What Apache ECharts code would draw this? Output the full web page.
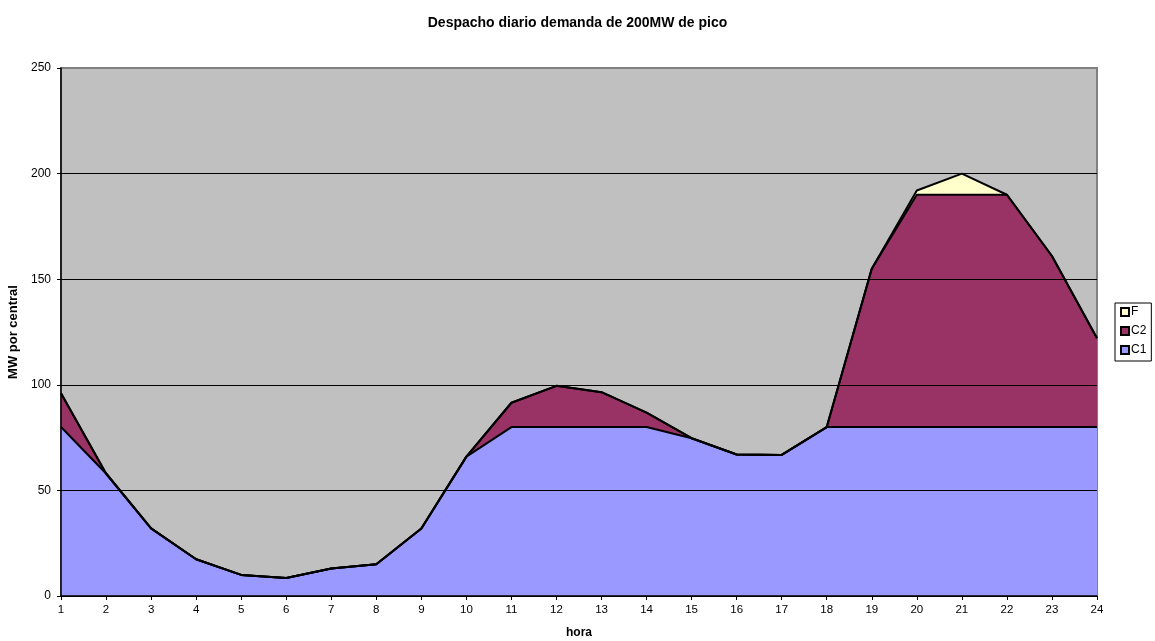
<!DOCTYPE html>
<html>
<head>
<meta charset="utf-8">
<script src="https://cdn.jsdelivr.net/npm/echarts@6/dist/echarts.min.js"></script>
<style>
  html, body { margin: 0; padding: 0; background: #fff; }
  #chart { width: 1155px; height: 641px; }
</style>
</head>
<body>
<div id="chart"></div>
<script>
// Hourly dispatch per plant (MW), stacked: C1 base, C2 intermediate, F peak
const hours = ['1','2','3','4','5','6','7','8','9','10','11','12','13','14','15','16','17','18','19','20','21','22','23','24'];
const c1 = [80, 58, 32, 17.4, 10, 8.5, 13, 15, 32, 66, 80, 80, 80, 80, 74.7, 67, 66.8, 80, 80, 80, 80, 80, 80, 80];
const c2 = [16, 0, 0, 0, 0, 0, 0, 0, 0, 0, 11.5, 19.5, 16.5, 6.8, 0, 0, 0, 0, 75, 110, 110, 110, 81, 42];
const f  = [0, 0, 0, 0, 0, 0, 0, 0, 0, 0, 0, 0, 0, 0, 0, 0, 0, 0, 0, 2, 10, 0, 0, 0];
const yTicks = { min: 0, max: 250, interval: 50 };

const font = 'Liberation Sans, Arial, sans-serif';

function areaSeries(name, data, color) {
  return {
    name: name,
    type: 'line',
    stack: 'total',
    data: data,
    symbol: 'none',
    lineStyle: { color: '#000', width: 2 },
    areaStyle: { color: color, opacity: 1 },
    itemStyle: { color: color, borderColor: '#000', borderWidth: 1 },
    z: 2
  };
}

const chart = echarts.init(document.getElementById('chart'), null, { renderer: 'canvas' });
chart.setOption({
  animation: false,
  backgroundColor: '#ffffff',
  title: {
    text: 'Despacho diario demanda de 200MW de pico',
    left: 'center',
    top: 11,
    textStyle: { fontFamily: font, fontSize: 14, fontWeight: 'bold', color: '#000' }
  },
  legend: {
    data: ['F', 'C2', 'C1'],
    orient: 'vertical',
    left: 1115,
    top: 303,
    itemWidth: 8,
    itemHeight: 8,
    itemGap: 7,
    padding: [3, 5, 5, 5],
    borderColor: '#000',
    borderWidth: 1,
    backgroundColor: '#fff',
    icon: 'rect',
    textStyle: { fontFamily: font, fontSize: 12, color: '#000', padding: [0, 0, 0, -3] }
  },
  grid: {
    left: 61,
    right: 58,
    top: 68,
    bottom: 45,
    outerBoundsMode: 'none',
    containLabel: false,
    show: true,
    backgroundColor: '#C0C0C0',
    borderColor: '#808080',
    borderWidth: 2
  },
  xAxis: {
    type: 'category',
    data: hours,
    boundaryGap: false,
    name: 'hora',
    nameLocation: 'middle',
    nameGap: 31,
    nameTextStyle: { fontFamily: font, fontSize: 12, fontWeight: 'bold', color: '#000' },
    axisLine: { lineStyle: { color: '#000', width: 1.5 } },
    axisTick: { show: true, length: 4, lineStyle: { color: '#000' } },
    axisLabel: { fontFamily: font, fontSize: 11.5, color: '#000', margin: 8 },
    splitLine: { show: false },
    z: 5
  },
  yAxis: {
    type: 'value',
    min: yTicks.min,
    max: yTicks.max,
    interval: yTicks.interval,
    name: 'MW por central',
    nameLocation: 'middle',
    nameGap: 38,
    nameTextStyle: { fontFamily: font, fontSize: 13, fontWeight: 'bold', color: '#000' },
    axisLine: { show: true, lineStyle: { color: '#000', width: 1.5 } },
    axisTick: { show: true, length: 4, lineStyle: { color: '#000' } },
    axisLabel: { fontFamily: font, fontSize: 12, color: '#000', margin: 10 },
    splitLine: {
      show: true,
      lineStyle: { color: ['#000', '#000', '#000', '#000', '#000', '#808080'], width: 1 }
    },
    z: 5
  },
  series: [
    areaSeries('C1', c1, '#9999FF'),
    areaSeries('C2', c2, '#993366'),
    areaSeries('F', f, '#FFFFCC')
  ]
});
</script>
</body>
</html>
